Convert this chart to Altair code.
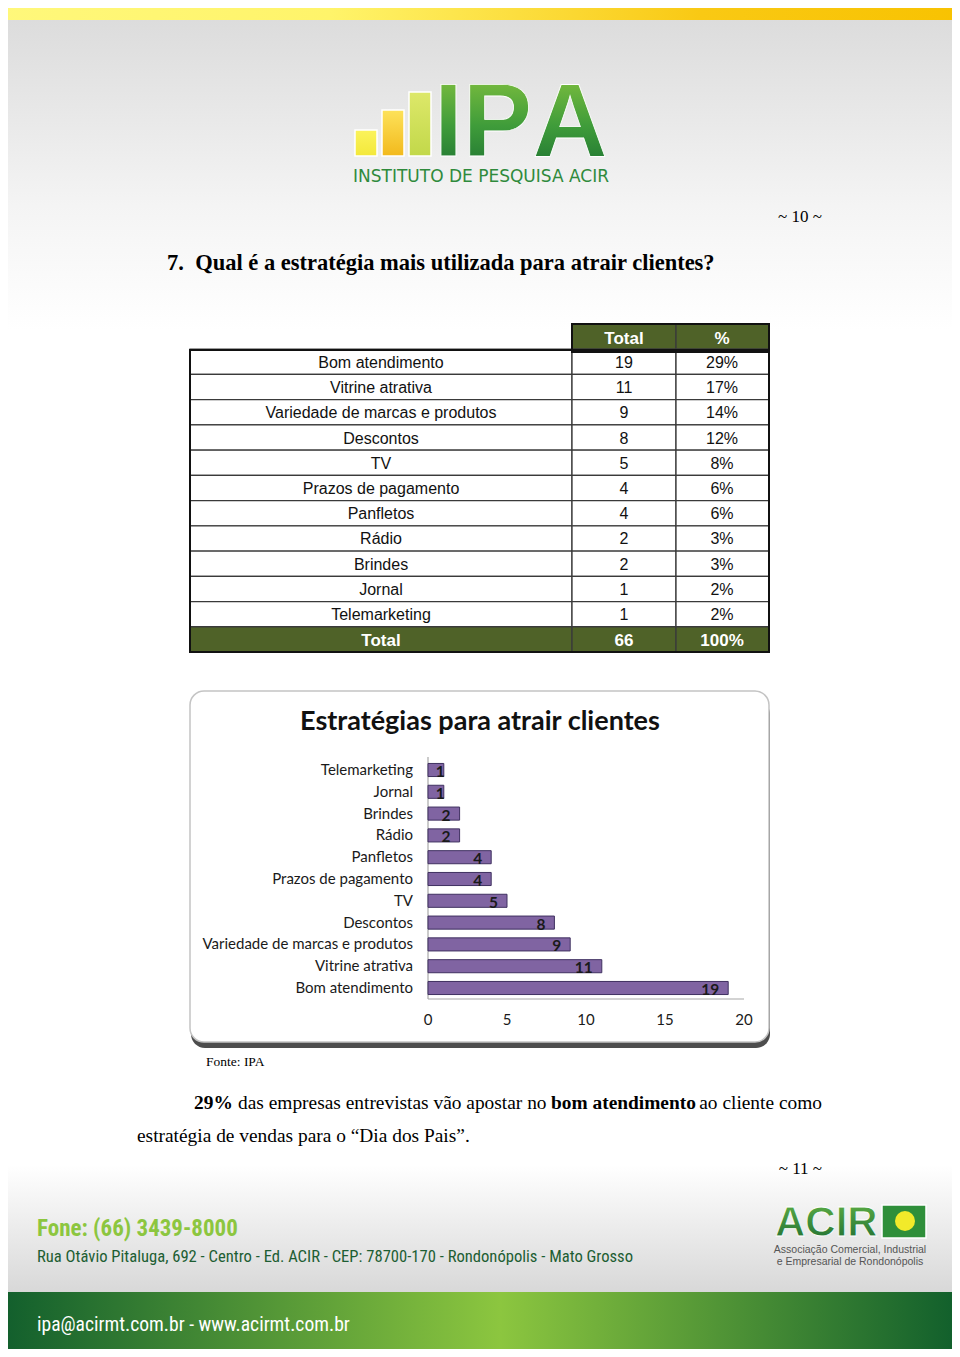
import altair as alt
import pandas as pd

# ---------------- data ----------------
categories = ["Bom atendimento", "Vitrine atrativa", "Variedade de marcas e produtos",
              "Descontos", "TV", "Prazos de pagamento", "Panfletos", "Rádio",
              "Brindes", "Jornal", "Telemarketing"]
totals = [19, 11, 9, 8, 5, 4, 4, 2, 2, 1, 1]
percents = [29, 17, 14, 12, 8, 6, 6, 3, 3, 2, 2]
grand_total = 66
grand_percent = 100
header_labels = ["Total", "%"]
chart_order = ["Telemarketing", "Jornal", "Brindes", "Rádio", "Panfletos",
               "Prazos de pagamento", "TV", "Descontos",
               "Variedade de marcas e produtos", "Vitrine atrativa", "Bom atendimento"]
x_ticks = [0, 5, 10, 15, 20]
chart_title = "Estratégias para atrair clientes"

# ---------------- helpers ----------------
OFF = 8
def p(v):
    return v - OFF

one = pd.DataFrame({"a": [0]})

def grad(stops, vertical=False):
    return alt.Gradient(
        gradient="linear",
        stops=[alt.GradientStop(offset=o, color=c) for o, c in stops],
        x1=0, x2=0 if vertical else 1, y1=0, y2=1 if vertical else 0,
    )

def rect(x1, y1, x2, y2, **mk):
    return alt.Chart(one).mark_rect(**mk).encode(
        x=alt.value(p(x1)), x2=alt.value(p(x2)), y=alt.value(p(y1)), y2=alt.value(p(y2)))

def txt(s, x, y, size, font, weight="normal", color="#000000", align="left", **kw):
    return alt.Chart(one).mark_text(
        text=s, fontSize=size, font=font, fontWeight=weight, color=color,
        align=align, baseline="middle", **kw).encode(x=alt.value(p(x)), y=alt.value(p(y)))

SERIF = "Liberation Serif"
SANS = "Liberation Sans"
CAL = "Lato"
NARROW = "Liberation Sans Narrow, Roboto Condensed, Liberation Sans"

layers = []

# ---------------- page background ----------------
layers.append(rect(-20, -20, 980, 1380, fill="#ffffff"))
layers.append(rect(-20, 20, 980, 330, fill=grad([(0, "#dcdcdc"), (0.6, "#f4f4f4"), (1, "#ffffff")], vertical=True)))
layers.append(rect(-20, 1165, 980, 1292, fill=grad([(0, "#ffffff"), (1, "#d8d8d8")], vertical=True)))
layers.append(rect(-20, 0, 980, 20, fill=grad([(0, "#fff87c"), (0.35, "#fff46a"), (0.72, "#f9c914"), (1, "#f8c200")])))
layers.append(rect(-20, 1292, 980, 1380, fill=grad([(0, "#0c5a2c"), (0.52, "#8cc63f"), (1, "#0b5a2b")])))

# ---------------- IPA logo ----------------
layers.append(rect(355, 130, 377, 156, fill=grad([(0, "#fbf35c"), (1, "#f3e83a")], vertical=True), stroke="white", strokeWidth=1.5))
layers.append(rect(382, 110, 404, 156, fill=grad([(0, "#fde25a"), (1, "#f2b91c")], vertical=True), stroke="white", strokeWidth=1.5))
layers.append(rect(409, 92, 431, 156, fill=grad([(0, "#dde86a"), (1, "#c2d84a")], vertical=True), stroke="white", strokeWidth=1.5))
green_grad = grad([(0, "#8cc63f"), (0.55, "#3f9c3a"), (1, "#1a6e31")], vertical=True)
logo_letters = [("I", 448.5), ("P", 497.5), ("A", 570)]
for letter, cx in logo_letters:
    layers.append(alt.Chart(one).mark_text(
        text=letter, fontSize=104, font=SANS, fontWeight="bold", fill=green_grad,
        stroke="#ffffff", strokeWidth=0.8, align="center", baseline="alphabetic").encode(
        x=alt.value(p(cx)), y=alt.value(p(156))))
layers.append(txt("INSTITUTO DE PESQUISA ACIR", 481, 177, 17, "DejaVu Sans", color="#2f8a3c", align="center"))

# ---------------- headings ----------------
layers.append(txt("~ 10 ~", 822, 217, 17, SERIF, align="right"))
layers.append(txt("7.\u00a0\u00a0Qual é a estratégia mais utilizada para atrair clientes?", 167, 263, 22.5, SERIF, weight="bold"))

# ---------------- table ----------------
rows = [{"key": "h", "label": "", "total": header_labels[0], "pct": header_labels[1], "kind": "head"}]
for c, t, pc in zip(categories, totals, percents):
    rows.append({"key": c, "label": c, "total": str(t), "pct": f"{pc}%", "kind": "body"})
rows.append({"key": "t", "label": "Total", "total": str(grand_total), "pct": f"{grand_percent}%", "kind": "tot"})
tdf = pd.DataFrame(rows)
keys = list(tdf["key"])
ty = alt.Y("key:N", sort=keys, axis=None,
           scale=alt.Scale(domain=keys, range=[p(324), p(652)], paddingInner=0, paddingOuter=0))
cols = [(190, 572, "label", 381), (572, 676, "total", 624), (676, 769, "pct", 722)]
fillc = alt.condition("datum.kind != 'body'", alt.value("#4f6228"), alt.value("#ffffff"))
tbase = alt.Chart(tdf)
for i, (x1, x2, field, cx) in enumerate(cols):
    src = tbase.transform_filter("datum.kind != 'head'") if i == 0 else tbase
    layers.append(src.mark_rect(stroke="#3a3a3a", strokeWidth=1.3).encode(
        x=alt.value(p(x1)), x2=alt.value(p(x2)), y=ty, fill=fillc))
# outer border
layers.append(rect(190, 350, 769, 652, filled=False, stroke="#111111", strokeWidth=2))
layers.append(rect(572, 324, 769, 352, filled=False, stroke="#111111", strokeWidth=2))
for field, cx in [("label", 381), ("total", 624), ("pct", 722)]:
    layers.append(tbase.transform_filter("datum.kind == 'body'").mark_text(
        font=SANS, fontSize=16, color="#111111", baseline="middle", dy=1).encode(
        x=alt.value(p(cx)), y=ty, text=f"{field}:N"))
    layers.append(tbase.transform_filter("datum.kind != 'body'").mark_text(
        font=SANS, fontSize=17, fontWeight="bold", color="#ffffff", baseline="middle", dy=2).encode(
        x=alt.value(p(cx)), y=ty, text=f"{field}:N"))

# ---------------- chart box ----------------
layers.append(rect(191, 700, 770, 1048, fill="#4d4d4d", cornerRadius=14))
layers.append(rect(190, 691, 769, 1042, fill="#ffffff", stroke="#c4c4c4", strokeWidth=1.5, cornerRadius=14))
layers.append(txt(chart_title, 480, 722, 27, CAL, weight="bold", color="#111111", align="center"))

bdf = pd.DataFrame({"category": categories, "value": totals})
xs = alt.Scale(domain=[0, 20], range=[p(428), p(744)], nice=False, zero=True)
ys = alt.Scale(domain=chart_order, range=[p(759.1), p(998.9)], paddingInner=0.4, paddingOuter=0.2)
bx = alt.X("value:Q", scale=xs, axis=None)
byy = alt.Y("category:N", scale=ys, axis=None, sort=chart_order)

layers.append(alt.Chart(one).mark_rule(color="#a8a8a8", strokeWidth=1.2).encode(
    x=alt.value(p(428)), y=alt.value(p(757)), y2=alt.value(p(999))))
layers.append(alt.Chart(one).mark_rule(color="#a8a8a8", strokeWidth=1.2).encode(
    x=alt.value(p(428)), x2=alt.value(p(744)), y=alt.value(p(999))))
bars = alt.Chart(bdf)
layers.append(bars.mark_bar(color="#8064a2", stroke="#3f3060", strokeWidth=1).encode(x=bx, y=byy))
layers.append(bars.transform_filter("datum.value >= 2").mark_text(
    align="right", baseline="middle", dx=-9, dy=2, font=CAL, fontSize=15.5, fontWeight="bold", color="#1a1a1a").encode(
    x=bx, y=byy, text="value:Q"))
layers.append(bars.transform_filter("datum.value < 2").mark_text(
    align="right", baseline="middle", dx=1, dy=2, font=CAL, fontSize=15.5, fontWeight="bold", color="#1a1a1a").encode(
    x=bx, y=byy, text="value:Q"))
layers.append(bars.mark_text(align="right", baseline="middle", font=CAL, fontSize=15, color="#1a1a1a").encode(
    x=alt.value(p(413)), y=byy, text="category:N"))
tick_df = pd.DataFrame({"t": x_ticks})
layers.append(alt.Chart(tick_df).mark_text(align="center", baseline="middle", font=CAL, fontSize=15, color="#1a1a1a").encode(
    x=alt.X("t:Q", scale=xs, axis=None), y=alt.value(p(1020)), text="t:Q"))

# ---------------- text below ----------------
layers.append(txt("Fonte: IPA", 206, 1062, 13.5, SERIF))
layers.append(txt("29%", 194, 1103, 19.4, SERIF, weight="bold"))
layers.append(txt("das empresas entrevistas vão apostar no", 238, 1103, 19.4, SERIF))
layers.append(txt("bom atendimento", 551, 1103, 19.4, SERIF, weight="bold"))
layers.append(txt("ao cliente como", 822, 1103, 19.4, SERIF, align="right"))
layers.append(txt("estratégia de vendas para o “Dia dos Pais”.", 137, 1136, 19.4, SERIF))
layers.append(txt("~ 11 ~", 822, 1169, 17, SERIF, align="right"))

# ---------------- footer ----------------
layers.append(txt("Fone: (66) 3439-8000", 37, 1229, 23, NARROW, weight="bold", color="#8cc63f"))
layers.append(txt("Rua Otávio Pitaluga, 692 - Centro - Ed. ACIR - CEP: 78700-170 - Rondonópolis - Mato Grosso",
                  37, 1257, 16.6, NARROW, color="#1d5e33"))
layers.append(txt("ipa@acirmt.com.br - www.acirmt.com.br", 37, 1325, 19.6, NARROW, color="#ffffff"))
layers.append(alt.Chart(one).mark_text(
    text="ACIR", fontSize=42, font=SANS, fontWeight="bold",
    fill=grad([(0, "#62b346"), (1, "#1c6b32")], vertical=True), stroke="#ffffff", strokeWidth=0.8,
    align="left", baseline="alphabetic").encode(x=alt.value(p(775)), y=alt.value(p(1236))))
layers.append(rect(882, 1205, 926, 1238, fill="#2f8f3a", stroke="white", strokeWidth=1.5))
layers.append(alt.Chart(one).mark_point(filled=True, color="#f2ea2a", size=400, opacity=1).encode(
    x=alt.value(p(905)), y=alt.value(p(1221))))
layers.append(txt("Associação Comercial, Industrial", 850, 1250, 10.5, SANS, color="#555555", align="center"))
layers.append(txt("e Empresarial de Rondonópolis", 850, 1262, 10.5, SANS, color="#555555", align="center"))

chart = alt.layer(*layers).resolve_scale(x="independent", y="independent").properties(
    width=944, height=1341, padding=0,
    autosize=alt.AutoSizeParams(type="none"),
).configure_view(stroke=None).configure(background="#ffffff")

chart.save("out.html", embed_options={"renderer": "svg", "actions": False})
